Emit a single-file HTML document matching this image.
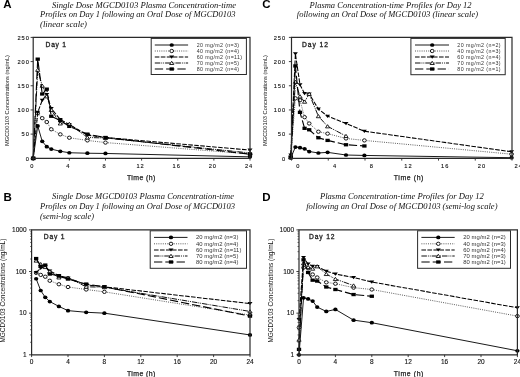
<!DOCTYPE html>
<html><head><meta charset="utf-8"><title>MGCD0103 plasma concentration-time profiles</title>
<style>
html,body{margin:0;padding:0;background:#fff;}
body{width:520px;height:377px;overflow:hidden;font-family:"Liberation Sans",sans-serif;}
svg{display:block;filter:grayscale(1);}
text{font-family:"Liberation Sans",sans-serif;fill:#111;}
.pl{font-weight:bold;font-size:11.5px;fill:#000;}
.ti{font-family:"Liberation Serif",serif;font-style:italic;font-size:8.6px;fill:#111;}
.tk{font-size:6.2px;fill:#111;stroke:#111;stroke-width:0.12px;}
.day{font-size:6.7px;fill:#222;stroke:#222;stroke-width:0.3px;}
.tl{font-size:6.9px;fill:#222;stroke:#222;stroke-width:0.25px;}
.yl{fill:#111;}
.lg{font-size:5.3px;fill:#333;}
</style></head><body>
<svg width="520" height="377" viewBox="0 0 520 377">
<rect width="520" height="377" fill="#fff"/>

<text class="pl" x="3.2" y="8.2">A</text>
<text class="pl" x="262.2" y="8.4">C</text>
<text class="pl" x="3.6" y="200.5">B</text>
<text class="pl" x="262.2" y="200.5">D</text>
<text class="ti" x="52" y="7.6" textLength="184" lengthAdjust="spacingAndGlyphs">Single Dose MGCD0103 Plasma Concentration-time</text>
<text class="ti" x="40" y="17.4" textLength="195.5" lengthAdjust="spacingAndGlyphs">Profiles on Day 1 following an Oral Dose of MGCD0103</text>
<text class="ti" x="40" y="27.4" textLength="47" lengthAdjust="spacingAndGlyphs">(linear scale)</text>
<text class="ti" x="309.6" y="7.6" textLength="162" lengthAdjust="spacingAndGlyphs">Plasma Concentration-time Profiles for Day 12</text>
<text class="ti" x="296.8" y="17.4" textLength="181.2" lengthAdjust="spacingAndGlyphs">following an Oral Dose of MGCD0103 (linear scale)</text>
<text class="ti" x="52" y="199.3" textLength="182" lengthAdjust="spacingAndGlyphs">Single Dose MGCD0103 Plasma Concentration-time</text>
<text class="ti" x="40" y="209" textLength="195" lengthAdjust="spacingAndGlyphs">Profiles on Day 1 following an Oral Dose of MGCD0103</text>
<text class="ti" x="40" y="218.7" textLength="54" lengthAdjust="spacingAndGlyphs">(semi-log scale)</text>
<text class="ti" x="319.9" y="199.3" textLength="164" lengthAdjust="spacingAndGlyphs">Plasma Concentration-time Profiles for Day 12</text>
<text class="ti" x="306.2" y="209" textLength="191.3" lengthAdjust="spacingAndGlyphs">following an Oral Dose of MGCD0103 (semi-log scale)</text>

<g><polyline fill="none" stroke="#000" stroke-width="0.9" points="33.20,158.30 37.72,125.90 42.23,141.37 46.75,146.69 51.27,149.11 60.30,151.29 69.33,152.74 87.40,153.22 105.47,153.46 250.00,156.85"/>
<ellipse cx="33.20" cy="158.30" rx="2.15" ry="1.85" fill="#000"/>
<ellipse cx="37.72" cy="125.90" rx="2.15" ry="1.85" fill="#000"/>
<ellipse cx="42.23" cy="141.37" rx="2.15" ry="1.85" fill="#000"/>
<ellipse cx="46.75" cy="146.69" rx="2.15" ry="1.85" fill="#000"/>
<ellipse cx="51.27" cy="149.11" rx="2.15" ry="1.85" fill="#000"/>
<ellipse cx="60.30" cy="151.29" rx="2.15" ry="1.85" fill="#000"/>
<ellipse cx="69.33" cy="152.74" rx="2.15" ry="1.85" fill="#000"/>
<ellipse cx="87.40" cy="153.22" rx="2.15" ry="1.85" fill="#000"/>
<ellipse cx="105.47" cy="153.46" rx="2.15" ry="1.85" fill="#000"/>
<ellipse cx="250.00" cy="156.85" rx="2.15" ry="1.85" fill="#000"/>
<polyline fill="none" stroke="#333" stroke-width="0.8" stroke-dasharray="1 1.2" points="33.20,158.30 37.72,113.33 42.23,118.16 46.75,122.03 51.27,129.28 60.30,134.36 69.33,137.75 87.40,140.41 105.47,142.58 250.00,153.95"/>
<ellipse cx="33.20" cy="158.30" rx="1.85" ry="1.65" fill="#fff" stroke="#000" stroke-width="0.9"/>
<ellipse cx="37.72" cy="113.33" rx="1.85" ry="1.65" fill="#fff" stroke="#000" stroke-width="0.9"/>
<ellipse cx="42.23" cy="118.16" rx="1.85" ry="1.65" fill="#fff" stroke="#000" stroke-width="0.9"/>
<ellipse cx="46.75" cy="122.03" rx="1.85" ry="1.65" fill="#fff" stroke="#000" stroke-width="0.9"/>
<ellipse cx="51.27" cy="129.28" rx="1.85" ry="1.65" fill="#fff" stroke="#000" stroke-width="0.9"/>
<ellipse cx="60.30" cy="134.36" rx="1.85" ry="1.65" fill="#fff" stroke="#000" stroke-width="0.9"/>
<ellipse cx="69.33" cy="137.75" rx="1.85" ry="1.65" fill="#fff" stroke="#000" stroke-width="0.9"/>
<ellipse cx="87.40" cy="140.41" rx="1.85" ry="1.65" fill="#fff" stroke="#000" stroke-width="0.9"/>
<ellipse cx="105.47" cy="142.58" rx="1.85" ry="1.65" fill="#fff" stroke="#000" stroke-width="0.9"/>
<ellipse cx="250.00" cy="153.95" rx="1.85" ry="1.65" fill="#fff" stroke="#000" stroke-width="0.9"/>
<polyline fill="none" stroke="#000" stroke-width="1.05" stroke-dasharray="4.6 1.4" points="33.20,158.30 37.72,112.36 42.23,100.27 46.75,94.46 51.27,108.49 60.30,119.61 69.33,124.45 87.40,135.09 105.47,137.51 250.00,150.08"/>
<path d="M30.70 156.80L35.70 156.80L33.20 160.03Z" fill="#000"/>
<path d="M35.22 110.86L40.22 110.86L37.72 114.08Z" fill="#000"/>
<path d="M39.73 98.77L44.73 98.77L42.23 101.99Z" fill="#000"/>
<path d="M44.25 92.96L49.25 92.96L46.75 96.19Z" fill="#000"/>
<path d="M48.77 106.99L53.77 106.99L51.27 110.21Z" fill="#000"/>
<path d="M57.80 118.11L62.80 118.11L60.30 121.34Z" fill="#000"/>
<path d="M66.83 122.95L71.83 122.95L69.33 126.17Z" fill="#000"/>
<path d="M84.90 133.59L89.90 133.59L87.40 136.81Z" fill="#000"/>
<path d="M102.97 136.01L107.97 136.01L105.47 139.23Z" fill="#000"/>
<path d="M247.50 148.58L252.50 148.58L250.00 151.80Z" fill="#000"/>
<polyline fill="none" stroke="#000" stroke-width="0.95" stroke-dasharray="5.5 1 0.9 1 0.9 1" points="33.20,158.30 37.72,69.80 42.23,85.76 46.75,96.40 51.27,109.94 60.30,123.48 69.33,123.96 87.40,137.51 105.47,137.99 250.00,152.98"/>
<path d="M31.10 159.80L35.30 159.80L33.20 156.58Z" fill="#fff" stroke="#000" stroke-width="0.85"/>
<path d="M35.62 71.30L39.82 71.30L37.72 68.08Z" fill="#fff" stroke="#000" stroke-width="0.85"/>
<path d="M40.13 87.26L44.33 87.26L42.23 84.04Z" fill="#fff" stroke="#000" stroke-width="0.85"/>
<path d="M44.65 97.90L48.85 97.90L46.75 94.67Z" fill="#fff" stroke="#000" stroke-width="0.85"/>
<path d="M49.17 111.44L53.37 111.44L51.27 108.22Z" fill="#fff" stroke="#000" stroke-width="0.85"/>
<path d="M58.20 124.98L62.40 124.98L60.30 121.76Z" fill="#fff" stroke="#000" stroke-width="0.85"/>
<path d="M67.23 125.46L71.43 125.46L69.33 122.24Z" fill="#fff" stroke="#000" stroke-width="0.85"/>
<path d="M85.30 139.01L89.50 139.01L87.40 135.78Z" fill="#fff" stroke="#000" stroke-width="0.85"/>
<path d="M103.37 139.49L107.57 139.49L105.47 136.26Z" fill="#fff" stroke="#000" stroke-width="0.85"/>
<path d="M247.90 154.48L252.10 154.48L250.00 151.26Z" fill="#fff" stroke="#000" stroke-width="0.85"/>
<polyline fill="none" stroke="#000" stroke-width="1.15" stroke-dasharray="8.3 3" points="33.20,158.30 37.72,59.16 42.23,93.98 46.75,89.15 51.27,116.23 60.30,120.58 69.33,126.38 87.40,134.12 105.47,137.51 250.00,154.19"/>
<rect x="31.05" y="156.65" width="4.30" height="3.30" fill="#000"/>
<rect x="35.57" y="57.51" width="4.30" height="3.30" fill="#000"/>
<rect x="40.08" y="92.33" width="4.30" height="3.30" fill="#000"/>
<rect x="44.60" y="87.50" width="4.30" height="3.30" fill="#000"/>
<rect x="49.12" y="114.58" width="4.30" height="3.30" fill="#000"/>
<rect x="58.15" y="118.93" width="4.30" height="3.30" fill="#000"/>
<rect x="67.18" y="124.73" width="4.30" height="3.30" fill="#000"/>
<rect x="85.25" y="132.47" width="4.30" height="3.30" fill="#000"/>
<rect x="103.32" y="135.86" width="4.30" height="3.30" fill="#000"/>
<rect x="247.85" y="152.54" width="4.30" height="3.30" fill="#000"/>
<path d="M33.2 37.4H250V158.3H33.2Z" fill="none" stroke="#2a2a2a" stroke-width="1.2"/>
<path d="M33.20 158.3v2.3" stroke="#2a2a2a" stroke-width="0.9"/>
<text x="32.20" y="168.10" text-anchor="middle" class="tk" letter-spacing="0.95" style="font-size:5.7px">0</text>
<path d="M69.33 158.3v2.3" stroke="#2a2a2a" stroke-width="0.9"/>
<text x="68.33" y="168.10" text-anchor="middle" class="tk" letter-spacing="0.95" style="font-size:5.7px">4</text>
<path d="M105.47 158.3v2.3" stroke="#2a2a2a" stroke-width="0.9"/>
<text x="104.47" y="168.10" text-anchor="middle" class="tk" letter-spacing="0.95" style="font-size:5.7px">8</text>
<path d="M141.60 158.3v2.3" stroke="#2a2a2a" stroke-width="0.9"/>
<text x="140.60" y="168.10" text-anchor="middle" class="tk" letter-spacing="0.95" style="font-size:5.7px">12</text>
<path d="M177.73 158.3v2.3" stroke="#2a2a2a" stroke-width="0.9"/>
<text x="176.73" y="168.10" text-anchor="middle" class="tk" letter-spacing="0.95" style="font-size:5.7px">16</text>
<path d="M213.87 158.3v2.3" stroke="#2a2a2a" stroke-width="0.9"/>
<text x="212.87" y="168.10" text-anchor="middle" class="tk" letter-spacing="0.95" style="font-size:5.7px">20</text>
<path d="M250.00 158.3v2.3" stroke="#2a2a2a" stroke-width="0.9"/>
<text x="249.00" y="168.10" text-anchor="middle" class="tk" letter-spacing="0.95" style="font-size:5.7px">24</text>
<path d="M33.2 158.30h-2.6" stroke="#2a2a2a" stroke-width="0.9"/>
<text x="29.8" y="160.60" text-anchor="end" class="tk" letter-spacing="0.95" style="font-size:5.7px">0</text>
<path d="M33.2 134.12h-2.6" stroke="#2a2a2a" stroke-width="0.9"/>
<text x="29.8" y="136.42" text-anchor="end" class="tk" letter-spacing="0.95" style="font-size:5.7px">50</text>
<path d="M33.2 109.94h-2.6" stroke="#2a2a2a" stroke-width="0.9"/>
<text x="29.8" y="112.24" text-anchor="end" class="tk" letter-spacing="0.95" style="font-size:5.7px">100</text>
<path d="M33.2 85.76h-2.6" stroke="#2a2a2a" stroke-width="0.9"/>
<text x="29.8" y="88.06" text-anchor="end" class="tk" letter-spacing="0.95" style="font-size:5.7px">150</text>
<path d="M33.2 61.58h-2.6" stroke="#2a2a2a" stroke-width="0.9"/>
<text x="29.8" y="63.88" text-anchor="end" class="tk" letter-spacing="0.95" style="font-size:5.7px">200</text>
<path d="M33.2 37.40h-2.6" stroke="#2a2a2a" stroke-width="0.9"/>
<text x="29.8" y="39.70" text-anchor="end" class="tk" letter-spacing="0.95" style="font-size:5.7px">250</text>
<text x="45.6" y="46.80" class="day" textLength="20.4" lengthAdjust="spacing">Day 1</text>
<text x="126.9" y="179.90" class="tl" textLength="28.5" lengthAdjust="spacing">Time (h)</text>
<text transform="translate(9.43 146.00) rotate(-90)" class="yl" style="font-size:6.2px" textLength="91" lengthAdjust="spacingAndGlyphs">MGCD0103 Concentrations (ng/mL)</text>
<rect x="151.2" y="38.4" width="95.20000000000002" height="36.1" fill="#fff" stroke="#2a2a2a" stroke-width="1"/>
<path d="M154.8 45.0H188.1" stroke="#000" stroke-width="0.9"/>
<ellipse cx="171.70" cy="45.00" rx="2.15" ry="1.85" fill="#000"/>
<text x="196.8" y="47.00" class="lg" style="font-size:5.3px" textLength="42.3" lengthAdjust="spacing">20 mg/m2 (n=3)</text>
<path d="M154.8 51.0H188.1" stroke="#333" stroke-width="0.8" stroke-dasharray="1 1.2"/>
<ellipse cx="171.70" cy="51.00" rx="1.85" ry="1.65" fill="#fff" stroke="#000" stroke-width="0.9"/>
<text x="196.8" y="53.00" class="lg" style="font-size:5.3px" textLength="42.3" lengthAdjust="spacing">40 mg/m2 (n=4)</text>
<path d="M154.8 57.0H188.1" stroke="#000" stroke-width="1.05" stroke-dasharray="4.6 1.4"/>
<path d="M169.20 55.50L174.20 55.50L171.70 58.73Z" fill="#000"/>
<text x="196.8" y="59.00" class="lg" style="font-size:5.3px" textLength="45.3" lengthAdjust="spacing">60 mg/m2 (n=11)</text>
<path d="M154.8 63.0H188.1" stroke="#000" stroke-width="0.95" stroke-dasharray="5.5 1 0.9 1 0.9 1"/>
<path d="M169.60 64.50L173.80 64.50L171.70 61.27Z" fill="#fff" stroke="#000" stroke-width="0.85"/>
<text x="196.8" y="65.00" class="lg" style="font-size:5.3px" textLength="42.3" lengthAdjust="spacing">70 mg/m2 (n=5)</text>
<path d="M154.8 69.0H188.1" stroke="#000" stroke-width="1.15" stroke-dasharray="8.3 3"/>
<rect x="169.55" y="67.35" width="4.30" height="3.30" fill="#000"/>
<text x="196.8" y="71.00" class="lg" style="font-size:5.3px" textLength="42.3" lengthAdjust="spacing">80 mg/m2 (n=4)</text></g>
<g><polyline fill="none" stroke="#000" stroke-width="0.9" points="290.80,157.82 295.40,147.03 300.00,147.66 304.60,148.87 309.20,151.53 318.40,152.98 327.60,152.35 346.00,155.01 364.40,155.45 511.60,157.70"/>
<ellipse cx="290.80" cy="157.82" rx="2.15" ry="1.85" fill="#000"/>
<ellipse cx="295.40" cy="147.03" rx="2.15" ry="1.85" fill="#000"/>
<ellipse cx="300.00" cy="147.66" rx="2.15" ry="1.85" fill="#000"/>
<ellipse cx="304.60" cy="148.87" rx="2.15" ry="1.85" fill="#000"/>
<ellipse cx="309.20" cy="151.53" rx="2.15" ry="1.85" fill="#000"/>
<ellipse cx="318.40" cy="152.98" rx="2.15" ry="1.85" fill="#000"/>
<ellipse cx="327.60" cy="152.35" rx="2.15" ry="1.85" fill="#000"/>
<ellipse cx="346.00" cy="155.01" rx="2.15" ry="1.85" fill="#000"/>
<ellipse cx="364.40" cy="155.45" rx="2.15" ry="1.85" fill="#000"/>
<ellipse cx="511.60" cy="157.70" rx="2.15" ry="1.85" fill="#000"/>
<polyline fill="none" stroke="#333" stroke-width="0.8" stroke-dasharray="1 1.2" points="290.80,156.12 295.40,98.33 300.00,100.27 304.60,117.19 309.20,123.48 318.40,131.70 327.60,133.64 346.00,138.47 364.40,140.41 511.60,154.19"/>
<ellipse cx="290.80" cy="156.12" rx="1.85" ry="1.65" fill="#fff" stroke="#000" stroke-width="0.9"/>
<ellipse cx="295.40" cy="98.33" rx="1.85" ry="1.65" fill="#fff" stroke="#000" stroke-width="0.9"/>
<ellipse cx="300.00" cy="100.27" rx="1.85" ry="1.65" fill="#fff" stroke="#000" stroke-width="0.9"/>
<ellipse cx="304.60" cy="117.19" rx="1.85" ry="1.65" fill="#fff" stroke="#000" stroke-width="0.9"/>
<ellipse cx="309.20" cy="123.48" rx="1.85" ry="1.65" fill="#fff" stroke="#000" stroke-width="0.9"/>
<ellipse cx="318.40" cy="131.70" rx="1.85" ry="1.65" fill="#fff" stroke="#000" stroke-width="0.9"/>
<ellipse cx="327.60" cy="133.64" rx="1.85" ry="1.65" fill="#fff" stroke="#000" stroke-width="0.9"/>
<ellipse cx="346.00" cy="138.47" rx="1.85" ry="1.65" fill="#fff" stroke="#000" stroke-width="0.9"/>
<ellipse cx="364.40" cy="140.41" rx="1.85" ry="1.65" fill="#fff" stroke="#000" stroke-width="0.9"/>
<ellipse cx="511.60" cy="154.19" rx="1.85" ry="1.65" fill="#fff" stroke="#000" stroke-width="0.9"/>
<polyline fill="none" stroke="#000" stroke-width="1.05" stroke-dasharray="4.6 1.4" points="290.80,154.91 295.40,53.84 300.00,84.79 304.60,93.50 309.20,93.98 318.40,108.97 327.60,116.23 346.00,123.48 364.40,131.22 511.60,151.77"/>
<path d="M288.30 153.41L293.30 153.41L290.80 156.64Z" fill="#000"/>
<path d="M292.90 52.34L297.90 52.34L295.40 55.57Z" fill="#000"/>
<path d="M297.50 83.29L302.50 83.29L300.00 86.52Z" fill="#000"/>
<path d="M302.10 92.00L307.10 92.00L304.60 95.22Z" fill="#000"/>
<path d="M306.70 92.48L311.70 92.48L309.20 95.71Z" fill="#000"/>
<path d="M315.90 107.47L320.90 107.47L318.40 110.70Z" fill="#000"/>
<path d="M325.10 114.73L330.10 114.73L327.60 117.95Z" fill="#000"/>
<path d="M343.50 121.98L348.50 121.98L346.00 125.21Z" fill="#000"/>
<path d="M361.90 129.72L366.90 129.72L364.40 132.94Z" fill="#000"/>
<path d="M509.10 150.27L514.10 150.27L511.60 153.50Z" fill="#000"/>
<polyline fill="none" stroke="#000" stroke-width="0.95" stroke-dasharray="5.5 1 0.9 1 0.9 1" points="290.80,157.19 295.40,81.89 300.00,96.40 304.60,101.72 309.20,93.98 318.40,116.23 327.60,126.38 346.00,136.05"/>
<path d="M288.70 158.69L292.90 158.69L290.80 155.46Z" fill="#fff" stroke="#000" stroke-width="0.85"/>
<path d="M293.30 83.39L297.50 83.39L295.40 80.17Z" fill="#fff" stroke="#000" stroke-width="0.85"/>
<path d="M297.90 97.90L302.10 97.90L300.00 94.67Z" fill="#fff" stroke="#000" stroke-width="0.85"/>
<path d="M302.50 103.22L306.70 103.22L304.60 99.99Z" fill="#fff" stroke="#000" stroke-width="0.85"/>
<path d="M307.10 95.48L311.30 95.48L309.20 92.26Z" fill="#fff" stroke="#000" stroke-width="0.85"/>
<path d="M316.30 117.73L320.50 117.73L318.40 114.50Z" fill="#fff" stroke="#000" stroke-width="0.85"/>
<path d="M325.50 127.88L329.70 127.88L327.60 124.66Z" fill="#fff" stroke="#000" stroke-width="0.85"/>
<path d="M343.90 137.55L348.10 137.55L346.00 134.33Z" fill="#fff" stroke="#000" stroke-width="0.85"/>
<polyline fill="none" stroke="#000" stroke-width="1.15" stroke-dasharray="8.3 3" points="290.80,157.65 295.40,65.93 300.00,112.36 304.60,128.32 309.20,129.77 318.40,137.75 327.60,140.41 346.00,144.76 364.40,145.97"/>
<rect x="288.65" y="156.00" width="4.30" height="3.30" fill="#000"/>
<rect x="293.25" y="64.28" width="4.30" height="3.30" fill="#000"/>
<rect x="297.85" y="110.71" width="4.30" height="3.30" fill="#000"/>
<rect x="302.45" y="126.67" width="4.30" height="3.30" fill="#000"/>
<rect x="307.05" y="128.12" width="4.30" height="3.30" fill="#000"/>
<rect x="316.25" y="136.10" width="4.30" height="3.30" fill="#000"/>
<rect x="325.45" y="138.76" width="4.30" height="3.30" fill="#000"/>
<rect x="343.85" y="143.11" width="4.30" height="3.30" fill="#000"/>
<rect x="362.25" y="144.32" width="4.30" height="3.30" fill="#000"/>
<path d="M291.5 37.4H512V158.3H291.5Z" fill="none" stroke="#2a2a2a" stroke-width="1.2"/>
<path d="M291.50 158.3v2.3" stroke="#2a2a2a" stroke-width="0.9"/>
<text x="298.20" y="168.10" text-anchor="middle" class="tk" letter-spacing="0.95" style="font-size:5.7px">0</text>
<path d="M328.25 158.3v2.3" stroke="#2a2a2a" stroke-width="0.9"/>
<text x="334.95" y="168.10" text-anchor="middle" class="tk" letter-spacing="0.95" style="font-size:5.7px">4</text>
<path d="M365.00 158.3v2.3" stroke="#2a2a2a" stroke-width="0.9"/>
<text x="371.70" y="168.10" text-anchor="middle" class="tk" letter-spacing="0.95" style="font-size:5.7px">8</text>
<path d="M401.75 158.3v2.3" stroke="#2a2a2a" stroke-width="0.9"/>
<text x="408.45" y="168.10" text-anchor="middle" class="tk" letter-spacing="0.95" style="font-size:5.7px">12</text>
<path d="M438.50 158.3v2.3" stroke="#2a2a2a" stroke-width="0.9"/>
<text x="445.20" y="168.10" text-anchor="middle" class="tk" letter-spacing="0.95" style="font-size:5.7px">16</text>
<path d="M475.25 158.3v2.3" stroke="#2a2a2a" stroke-width="0.9"/>
<text x="481.95" y="168.10" text-anchor="middle" class="tk" letter-spacing="0.95" style="font-size:5.7px">20</text>
<path d="M512.00 158.3v2.3" stroke="#2a2a2a" stroke-width="0.9"/>
<text x="518.70" y="168.10" text-anchor="middle" class="tk" letter-spacing="0.95" style="font-size:5.7px">24</text>
<path d="M291.5 158.30h-2.6" stroke="#2a2a2a" stroke-width="0.9"/>
<text x="286.0" y="160.60" text-anchor="end" class="tk" letter-spacing="0.95" style="font-size:5.7px">0</text>
<path d="M291.5 134.12h-2.6" stroke="#2a2a2a" stroke-width="0.9"/>
<text x="286.0" y="136.42" text-anchor="end" class="tk" letter-spacing="0.95" style="font-size:5.7px">50</text>
<path d="M291.5 109.94h-2.6" stroke="#2a2a2a" stroke-width="0.9"/>
<text x="286.0" y="112.24" text-anchor="end" class="tk" letter-spacing="0.95" style="font-size:5.7px">100</text>
<path d="M291.5 85.76h-2.6" stroke="#2a2a2a" stroke-width="0.9"/>
<text x="286.0" y="88.06" text-anchor="end" class="tk" letter-spacing="0.95" style="font-size:5.7px">150</text>
<path d="M291.5 61.58h-2.6" stroke="#2a2a2a" stroke-width="0.9"/>
<text x="286.0" y="63.88" text-anchor="end" class="tk" letter-spacing="0.95" style="font-size:5.7px">200</text>
<path d="M291.5 37.40h-2.6" stroke="#2a2a2a" stroke-width="0.9"/>
<text x="286.0" y="39.70" text-anchor="end" class="tk" letter-spacing="0.95" style="font-size:5.7px">250</text>
<text x="302" y="46.80" class="day" textLength="26" lengthAdjust="spacing">Day 12</text>
<text x="393.8" y="179.90" class="tl" textLength="29.6" lengthAdjust="spacing">Time (h)</text>
<text transform="translate(266.93 146.00) rotate(-90)" class="yl" style="font-size:6.2px" textLength="91" lengthAdjust="spacingAndGlyphs">MGCD0103 Concentrations (ng/mL)</text>
<rect x="410.9" y="38.4" width="94.30000000000001" height="36.300000000000004" fill="#fff" stroke="#2a2a2a" stroke-width="1"/>
<path d="M415 45.0H449" stroke="#000" stroke-width="0.9"/>
<ellipse cx="432.20" cy="45.00" rx="2.15" ry="1.85" fill="#000"/>
<text x="457.3" y="47.00" class="lg" style="font-size:5.3px" textLength="43.3" lengthAdjust="spacing">20 mg/m2 (n=2)</text>
<path d="M415 51.0H449" stroke="#333" stroke-width="0.8" stroke-dasharray="1 1.2"/>
<ellipse cx="432.20" cy="51.00" rx="1.85" ry="1.65" fill="#fff" stroke="#000" stroke-width="0.9"/>
<text x="457.3" y="53.00" class="lg" style="font-size:5.3px" textLength="43.3" lengthAdjust="spacing">40 mg/m2 (n=3)</text>
<path d="M415 57.0H449" stroke="#000" stroke-width="1.05" stroke-dasharray="4.6 1.4"/>
<path d="M429.70 55.50L434.70 55.50L432.20 58.73Z" fill="#000"/>
<text x="457.3" y="59.00" class="lg" style="font-size:5.3px" textLength="43.3" lengthAdjust="spacing">60 mg/m2 (n=4)</text>
<path d="M415 63.0H449" stroke="#000" stroke-width="0.95" stroke-dasharray="5.5 1 0.9 1 0.9 1"/>
<path d="M430.10 64.50L434.30 64.50L432.20 61.27Z" fill="#fff" stroke="#000" stroke-width="0.85"/>
<text x="457.3" y="65.00" class="lg" style="font-size:5.3px" textLength="43.3" lengthAdjust="spacing">70 mg/m2 (n=3)</text>
<path d="M415 69.0H449" stroke="#000" stroke-width="1.15" stroke-dasharray="8.3 3"/>
<rect x="430.05" y="67.35" width="4.30" height="3.30" fill="#000"/>
<text x="457.3" y="71.00" class="lg" style="font-size:5.3px" textLength="43.3" lengthAdjust="spacing">80 mg/m2 (n=1)</text></g>
<g><polyline fill="none" stroke="#000" stroke-width="0.9" points="36.15,278.77 40.70,290.52 45.25,297.34 49.80,301.56 58.90,306.45 68.00,310.64 86.20,312.28 104.40,313.17 250.00,334.94"/>
<ellipse cx="36.15" cy="278.77" rx="2.15" ry="1.85" fill="#000"/>
<ellipse cx="40.70" cy="290.52" rx="2.15" ry="1.85" fill="#000"/>
<ellipse cx="45.25" cy="297.34" rx="2.15" ry="1.85" fill="#000"/>
<ellipse cx="49.80" cy="301.56" rx="2.15" ry="1.85" fill="#000"/>
<ellipse cx="58.90" cy="306.45" rx="2.15" ry="1.85" fill="#000"/>
<ellipse cx="68.00" cy="310.64" rx="2.15" ry="1.85" fill="#000"/>
<ellipse cx="86.20" cy="312.28" rx="2.15" ry="1.85" fill="#000"/>
<ellipse cx="104.40" cy="313.17" rx="2.15" ry="1.85" fill="#000"/>
<ellipse cx="250.00" cy="334.94" rx="2.15" ry="1.85" fill="#000"/>
<polyline fill="none" stroke="#333" stroke-width="0.8" stroke-dasharray="1 1.2" points="36.15,272.85 40.70,274.90 45.25,276.73 49.80,280.77 58.90,284.25 68.00,287.00 86.20,289.51 104.40,291.86 250.00,315.07"/>
<ellipse cx="36.15" cy="272.85" rx="1.85" ry="1.65" fill="#fff" stroke="#000" stroke-width="0.9"/>
<ellipse cx="40.70" cy="274.90" rx="1.85" ry="1.65" fill="#fff" stroke="#000" stroke-width="0.9"/>
<ellipse cx="45.25" cy="276.73" rx="1.85" ry="1.65" fill="#fff" stroke="#000" stroke-width="0.9"/>
<ellipse cx="49.80" cy="280.77" rx="1.85" ry="1.65" fill="#fff" stroke="#000" stroke-width="0.9"/>
<ellipse cx="58.90" cy="284.25" rx="1.85" ry="1.65" fill="#fff" stroke="#000" stroke-width="0.9"/>
<ellipse cx="68.00" cy="287.00" rx="1.85" ry="1.65" fill="#fff" stroke="#000" stroke-width="0.9"/>
<ellipse cx="86.20" cy="289.51" rx="1.85" ry="1.65" fill="#fff" stroke="#000" stroke-width="0.9"/>
<ellipse cx="104.40" cy="291.86" rx="1.85" ry="1.65" fill="#fff" stroke="#000" stroke-width="0.9"/>
<ellipse cx="250.00" cy="315.07" rx="1.85" ry="1.65" fill="#fff" stroke="#000" stroke-width="0.9"/>
<polyline fill="none" stroke="#000" stroke-width="1.05" stroke-dasharray="4.6 1.4" points="36.15,272.46 40.70,268.24 45.25,266.51 49.80,271.00 58.90,275.57 68.00,277.98 86.20,284.80 104.40,286.79 250.00,303.57"/>
<path d="M33.65 270.96L38.65 270.96L36.15 274.19Z" fill="#000"/>
<path d="M38.20 266.74L43.20 266.74L40.70 269.96Z" fill="#000"/>
<path d="M42.75 265.01L47.75 265.01L45.25 268.24Z" fill="#000"/>
<path d="M47.30 269.50L52.30 269.50L49.80 272.72Z" fill="#000"/>
<path d="M56.40 274.07L61.40 274.07L58.90 277.29Z" fill="#000"/>
<path d="M65.50 276.48L70.50 276.48L68.00 279.71Z" fill="#000"/>
<path d="M83.70 283.30L88.70 283.30L86.20 286.53Z" fill="#000"/>
<path d="M101.90 285.29L106.90 285.29L104.40 288.52Z" fill="#000"/>
<path d="M247.50 302.07L252.50 302.07L250.00 305.30Z" fill="#000"/>
<polyline fill="none" stroke="#000" stroke-width="0.95" stroke-dasharray="5.5 1 0.9 1 0.9 1" points="36.15,260.61 40.70,264.20 45.25,267.07 49.80,271.53 58.90,277.47 68.00,277.73 86.20,286.79 104.40,287.22 250.00,311.44"/>
<path d="M34.05 262.11L38.25 262.11L36.15 258.88Z" fill="#fff" stroke="#000" stroke-width="0.85"/>
<path d="M38.60 265.70L42.80 265.70L40.70 262.48Z" fill="#fff" stroke="#000" stroke-width="0.85"/>
<path d="M43.15 268.57L47.35 268.57L45.25 265.34Z" fill="#fff" stroke="#000" stroke-width="0.85"/>
<path d="M47.70 273.03L51.90 273.03L49.80 269.81Z" fill="#fff" stroke="#000" stroke-width="0.85"/>
<path d="M56.80 278.97L61.00 278.97L58.90 275.75Z" fill="#fff" stroke="#000" stroke-width="0.85"/>
<path d="M65.90 279.23L70.10 279.23L68.00 276.00Z" fill="#fff" stroke="#000" stroke-width="0.85"/>
<path d="M84.10 288.29L88.30 288.29L86.20 285.07Z" fill="#fff" stroke="#000" stroke-width="0.85"/>
<path d="M102.30 288.72L106.50 288.72L104.40 285.49Z" fill="#fff" stroke="#000" stroke-width="0.85"/>
<path d="M247.90 312.94L252.10 312.94L250.00 309.72Z" fill="#fff" stroke="#000" stroke-width="0.85"/>
<polyline fill="none" stroke="#000" stroke-width="1.15" stroke-dasharray="8.3 3" points="36.15,258.55 40.70,266.38 45.25,265.07 49.80,274.05 58.90,276.03 68.00,279.05 86.20,284.07 104.40,286.79 250.00,316.11"/>
<rect x="34.00" y="256.90" width="4.30" height="3.30" fill="#000"/>
<rect x="38.55" y="264.73" width="4.30" height="3.30" fill="#000"/>
<rect x="43.10" y="263.42" width="4.30" height="3.30" fill="#000"/>
<rect x="47.65" y="272.40" width="4.30" height="3.30" fill="#000"/>
<rect x="56.75" y="274.38" width="4.30" height="3.30" fill="#000"/>
<rect x="65.85" y="277.40" width="4.30" height="3.30" fill="#000"/>
<rect x="84.05" y="282.42" width="4.30" height="3.30" fill="#000"/>
<rect x="102.25" y="285.14" width="4.30" height="3.30" fill="#000"/>
<rect x="247.85" y="314.46" width="4.30" height="3.30" fill="#000"/>
<path d="M31.6 229.9H250V354.8H31.6Z" fill="none" stroke="#2a2a2a" stroke-width="1.2"/>
<path d="M31.60 354.8v2.3" stroke="#2a2a2a" stroke-width="0.9"/>
<text x="31.60" y="363.70" text-anchor="middle" class="tk" style="font-size:6.5px">0</text>
<path d="M68.00 354.8v2.3" stroke="#2a2a2a" stroke-width="0.9"/>
<text x="68.00" y="363.70" text-anchor="middle" class="tk" style="font-size:6.5px">4</text>
<path d="M104.40 354.8v2.3" stroke="#2a2a2a" stroke-width="0.9"/>
<text x="104.40" y="363.70" text-anchor="middle" class="tk" style="font-size:6.5px">8</text>
<path d="M140.80 354.8v2.3" stroke="#2a2a2a" stroke-width="0.9"/>
<text x="140.80" y="363.70" text-anchor="middle" class="tk" style="font-size:6.5px">12</text>
<path d="M177.20 354.8v2.3" stroke="#2a2a2a" stroke-width="0.9"/>
<text x="177.20" y="363.70" text-anchor="middle" class="tk" style="font-size:6.5px">16</text>
<path d="M213.60 354.8v2.3" stroke="#2a2a2a" stroke-width="0.9"/>
<text x="213.60" y="363.70" text-anchor="middle" class="tk" style="font-size:6.5px">20</text>
<path d="M250.00 354.8v2.3" stroke="#2a2a2a" stroke-width="0.9"/>
<text x="250.00" y="363.70" text-anchor="middle" class="tk" style="font-size:6.5px">24</text>
<path d="M31.6 354.80h-2.6" stroke="#2a2a2a" stroke-width="0.9"/>
<text x="26.5" y="357.10" text-anchor="end" class="tk" style="font-size:6.5px">1</text>
<path d="M31.6 342.27h-1.5" stroke="#2a2a2a" stroke-width="0.7"/>
<path d="M31.6 334.94h-1.5" stroke="#2a2a2a" stroke-width="0.7"/>
<path d="M31.6 329.73h-1.5" stroke="#2a2a2a" stroke-width="0.7"/>
<path d="M31.6 325.70h-1.5" stroke="#2a2a2a" stroke-width="0.7"/>
<path d="M31.6 322.40h-1.5" stroke="#2a2a2a" stroke-width="0.7"/>
<path d="M31.6 319.62h-1.5" stroke="#2a2a2a" stroke-width="0.7"/>
<path d="M31.6 317.20h-1.5" stroke="#2a2a2a" stroke-width="0.7"/>
<path d="M31.6 315.07h-1.5" stroke="#2a2a2a" stroke-width="0.7"/>
<path d="M31.6 313.17h-2.6" stroke="#2a2a2a" stroke-width="0.9"/>
<text x="26.5" y="315.47" text-anchor="end" class="tk" style="font-size:6.5px">10</text>
<path d="M31.6 300.63h-1.5" stroke="#2a2a2a" stroke-width="0.7"/>
<path d="M31.6 293.30h-1.5" stroke="#2a2a2a" stroke-width="0.7"/>
<path d="M31.6 288.10h-1.5" stroke="#2a2a2a" stroke-width="0.7"/>
<path d="M31.6 284.07h-1.5" stroke="#2a2a2a" stroke-width="0.7"/>
<path d="M31.6 280.77h-1.5" stroke="#2a2a2a" stroke-width="0.7"/>
<path d="M31.6 277.98h-1.5" stroke="#2a2a2a" stroke-width="0.7"/>
<path d="M31.6 275.57h-1.5" stroke="#2a2a2a" stroke-width="0.7"/>
<path d="M31.6 273.44h-1.5" stroke="#2a2a2a" stroke-width="0.7"/>
<path d="M31.6 271.53h-2.6" stroke="#2a2a2a" stroke-width="0.9"/>
<text x="26.5" y="273.83" text-anchor="end" class="tk" style="font-size:6.5px">100</text>
<path d="M31.6 259.00h-1.5" stroke="#2a2a2a" stroke-width="0.7"/>
<path d="M31.6 251.67h-1.5" stroke="#2a2a2a" stroke-width="0.7"/>
<path d="M31.6 246.47h-1.5" stroke="#2a2a2a" stroke-width="0.7"/>
<path d="M31.6 242.43h-1.5" stroke="#2a2a2a" stroke-width="0.7"/>
<path d="M31.6 239.14h-1.5" stroke="#2a2a2a" stroke-width="0.7"/>
<path d="M31.6 236.35h-1.5" stroke="#2a2a2a" stroke-width="0.7"/>
<path d="M31.6 233.93h-1.5" stroke="#2a2a2a" stroke-width="0.7"/>
<path d="M31.6 231.81h-1.5" stroke="#2a2a2a" stroke-width="0.7"/>
<path d="M31.6 229.90h-2.6" stroke="#2a2a2a" stroke-width="0.9"/>
<text x="26.5" y="232.20" text-anchor="end" class="tk" style="font-size:6.5px">1000</text>
<text x="43.8" y="239.30" class="day" textLength="20.8" lengthAdjust="spacing">Day 1</text>
<text x="126.9" y="376.40" class="tl" textLength="28.5" lengthAdjust="spacing">Time (h)</text>
<text transform="translate(5.48 342.60) rotate(-90)" class="yl" style="font-size:6.9px" textLength="104" lengthAdjust="spacingAndGlyphs">MGCD0103 Concentrations (ng/mL)</text>
<rect x="150.2" y="230.8" width="96.30000000000001" height="37.5" fill="#fff" stroke="#2a2a2a" stroke-width="1"/>
<path d="M154 237.4H187.5" stroke="#000" stroke-width="0.9"/>
<ellipse cx="171.00" cy="237.40" rx="2.15" ry="1.85" fill="#000"/>
<text x="196" y="239.40" class="lg" style="font-size:5.9px" textLength="42.4" lengthAdjust="spacing">20 mg/m2 (n=3)</text>
<path d="M154 243.8H187.5" stroke="#333" stroke-width="0.8" stroke-dasharray="1 1.2"/>
<ellipse cx="171.00" cy="243.80" rx="1.85" ry="1.65" fill="#fff" stroke="#000" stroke-width="0.9"/>
<text x="196" y="245.80" class="lg" style="font-size:5.9px" textLength="42.4" lengthAdjust="spacing">40 mg/m2 (n=4)</text>
<path d="M154 249.9H187.5" stroke="#000" stroke-width="1.05" stroke-dasharray="4.6 1.4"/>
<path d="M168.50 248.40L173.50 248.40L171.00 251.62Z" fill="#000"/>
<text x="196" y="251.90" class="lg" style="font-size:5.9px" textLength="45.4" lengthAdjust="spacing">60 mg/m2 (n=11)</text>
<path d="M154 256.0H187.5" stroke="#000" stroke-width="0.95" stroke-dasharray="5.5 1 0.9 1 0.9 1"/>
<path d="M168.90 257.50L173.10 257.50L171.00 254.28Z" fill="#fff" stroke="#000" stroke-width="0.85"/>
<text x="196" y="258.00" class="lg" style="font-size:5.9px" textLength="42.4" lengthAdjust="spacing">70 mg/m2 (n=5)</text>
<path d="M154 262.0H187.5" stroke="#000" stroke-width="1.15" stroke-dasharray="8.3 3"/>
<rect x="168.85" y="260.35" width="4.30" height="3.30" fill="#000"/>
<text x="196" y="264.00" class="lg" style="font-size:5.9px" textLength="42.4" lengthAdjust="spacing">80 mg/m2 (n=4)</text></g>
<g><polyline fill="none" stroke="#000" stroke-width="0.9" points="299.00,354.80 303.55,297.87 308.10,298.91 312.65,301.09 317.20,307.08 326.30,311.44 335.40,309.42 353.60,320.14 371.80,322.71 517.40,350.77"/>
<ellipse cx="299.00" cy="354.80" rx="2.15" ry="1.85" fill="#000"/>
<ellipse cx="303.55" cy="297.87" rx="2.15" ry="1.85" fill="#000"/>
<ellipse cx="308.10" cy="298.91" rx="2.15" ry="1.85" fill="#000"/>
<ellipse cx="312.65" cy="301.09" rx="2.15" ry="1.85" fill="#000"/>
<ellipse cx="317.20" cy="307.08" rx="2.15" ry="1.85" fill="#000"/>
<ellipse cx="326.30" cy="311.44" rx="2.15" ry="1.85" fill="#000"/>
<ellipse cx="335.40" cy="309.42" rx="2.15" ry="1.85" fill="#000"/>
<ellipse cx="353.60" cy="320.14" rx="2.15" ry="1.85" fill="#000"/>
<ellipse cx="371.80" cy="322.71" rx="2.15" ry="1.85" fill="#000"/>
<ellipse cx="517.40" cy="350.77" rx="2.15" ry="1.85" fill="#000"/>
<polyline fill="none" stroke="#333" stroke-width="0.8" stroke-dasharray="1 1.2" points="299.00,327.60 303.55,267.64 308.10,268.24 312.65,274.47 317.20,277.47 326.30,282.34 335.40,283.71 353.60,287.65 371.80,289.51 517.40,316.11"/>
<ellipse cx="299.00" cy="327.60" rx="1.85" ry="1.65" fill="#fff" stroke="#000" stroke-width="0.9"/>
<ellipse cx="303.55" cy="267.64" rx="1.85" ry="1.65" fill="#fff" stroke="#000" stroke-width="0.9"/>
<ellipse cx="308.10" cy="268.24" rx="1.85" ry="1.65" fill="#fff" stroke="#000" stroke-width="0.9"/>
<ellipse cx="312.65" cy="274.47" rx="1.85" ry="1.65" fill="#fff" stroke="#000" stroke-width="0.9"/>
<ellipse cx="317.20" cy="277.47" rx="1.85" ry="1.65" fill="#fff" stroke="#000" stroke-width="0.9"/>
<ellipse cx="326.30" cy="282.34" rx="1.85" ry="1.65" fill="#fff" stroke="#000" stroke-width="0.9"/>
<ellipse cx="335.40" cy="283.71" rx="1.85" ry="1.65" fill="#fff" stroke="#000" stroke-width="0.9"/>
<ellipse cx="353.60" cy="287.65" rx="1.85" ry="1.65" fill="#fff" stroke="#000" stroke-width="0.9"/>
<ellipse cx="371.80" cy="289.51" rx="1.85" ry="1.65" fill="#fff" stroke="#000" stroke-width="0.9"/>
<ellipse cx="517.40" cy="316.11" rx="1.85" ry="1.65" fill="#fff" stroke="#000" stroke-width="0.9"/>
<polyline fill="none" stroke="#000" stroke-width="1.05" stroke-dasharray="4.6 1.4" points="299.00,319.62 303.55,257.61 308.10,263.96 312.65,266.24 317.20,266.38 326.30,271.18 335.40,274.05 353.60,277.47 371.80,282.02 517.40,307.74"/>
<path d="M296.50 318.12L301.50 318.12L299.00 321.34Z" fill="#000"/>
<path d="M301.05 256.11L306.05 256.11L303.55 259.33Z" fill="#000"/>
<path d="M305.60 262.46L310.60 262.46L308.10 265.69Z" fill="#000"/>
<path d="M310.15 264.74L315.15 264.74L312.65 267.97Z" fill="#000"/>
<path d="M314.70 264.88L319.70 264.88L317.20 268.10Z" fill="#000"/>
<path d="M323.80 269.68L328.80 269.68L326.30 272.90Z" fill="#000"/>
<path d="M332.90 272.55L337.90 272.55L335.40 275.78Z" fill="#000"/>
<path d="M351.10 275.97L356.10 275.97L353.60 279.20Z" fill="#000"/>
<path d="M369.30 280.52L374.30 280.52L371.80 283.74Z" fill="#000"/>
<path d="M514.90 306.24L519.90 306.24L517.40 309.47Z" fill="#000"/>
<polyline fill="none" stroke="#000" stroke-width="0.95" stroke-dasharray="5.5 1 0.9 1 0.9 1" points="299.00,339.74 303.55,263.26 308.10,267.07 312.65,268.69 317.20,266.38 326.30,274.05 335.40,279.05 353.60,285.57"/>
<path d="M296.90 341.24L301.10 341.24L299.00 338.02Z" fill="#fff" stroke="#000" stroke-width="0.85"/>
<path d="M301.45 264.76L305.65 264.76L303.55 261.54Z" fill="#fff" stroke="#000" stroke-width="0.85"/>
<path d="M306.00 268.57L310.20 268.57L308.10 265.34Z" fill="#fff" stroke="#000" stroke-width="0.85"/>
<path d="M310.55 270.19L314.75 270.19L312.65 266.97Z" fill="#fff" stroke="#000" stroke-width="0.85"/>
<path d="M315.10 267.88L319.30 267.88L317.20 264.65Z" fill="#fff" stroke="#000" stroke-width="0.85"/>
<path d="M324.20 275.55L328.40 275.55L326.30 272.33Z" fill="#fff" stroke="#000" stroke-width="0.85"/>
<path d="M333.30 280.55L337.50 280.55L335.40 277.32Z" fill="#fff" stroke="#000" stroke-width="0.85"/>
<path d="M351.50 287.07L355.70 287.07L353.60 283.85Z" fill="#fff" stroke="#000" stroke-width="0.85"/>
<polyline fill="none" stroke="#000" stroke-width="1.15" stroke-dasharray="8.3 3" points="299.00,349.37 303.55,259.83 308.10,272.46 312.65,280.18 317.20,281.07 326.30,287.00 335.40,289.51 353.60,294.55 371.80,296.24"/>
<rect x="296.85" y="347.72" width="4.30" height="3.30" fill="#000"/>
<rect x="301.40" y="258.18" width="4.30" height="3.30" fill="#000"/>
<rect x="305.95" y="270.81" width="4.30" height="3.30" fill="#000"/>
<rect x="310.50" y="278.53" width="4.30" height="3.30" fill="#000"/>
<rect x="315.05" y="279.42" width="4.30" height="3.30" fill="#000"/>
<rect x="324.15" y="285.35" width="4.30" height="3.30" fill="#000"/>
<rect x="333.25" y="287.86" width="4.30" height="3.30" fill="#000"/>
<rect x="351.45" y="292.90" width="4.30" height="3.30" fill="#000"/>
<rect x="369.65" y="294.59" width="4.30" height="3.30" fill="#000"/>
<path d="M299 229.9H517.4V354.8H299Z" fill="none" stroke="#2a2a2a" stroke-width="1.2"/>
<path d="M299.00 354.8v2.3" stroke="#2a2a2a" stroke-width="0.9"/>
<text x="299.00" y="363.70" text-anchor="middle" class="tk" style="font-size:6.5px">0</text>
<path d="M335.40 354.8v2.3" stroke="#2a2a2a" stroke-width="0.9"/>
<text x="335.40" y="363.70" text-anchor="middle" class="tk" style="font-size:6.5px">4</text>
<path d="M371.80 354.8v2.3" stroke="#2a2a2a" stroke-width="0.9"/>
<text x="371.80" y="363.70" text-anchor="middle" class="tk" style="font-size:6.5px">8</text>
<path d="M408.20 354.8v2.3" stroke="#2a2a2a" stroke-width="0.9"/>
<text x="408.20" y="363.70" text-anchor="middle" class="tk" style="font-size:6.5px">12</text>
<path d="M444.60 354.8v2.3" stroke="#2a2a2a" stroke-width="0.9"/>
<text x="444.60" y="363.70" text-anchor="middle" class="tk" style="font-size:6.5px">16</text>
<path d="M481.00 354.8v2.3" stroke="#2a2a2a" stroke-width="0.9"/>
<text x="481.00" y="363.70" text-anchor="middle" class="tk" style="font-size:6.5px">20</text>
<path d="M517.40 354.8v2.3" stroke="#2a2a2a" stroke-width="0.9"/>
<text x="517.40" y="363.70" text-anchor="middle" class="tk" style="font-size:6.5px">24</text>
<path d="M299 354.80h-2.6" stroke="#2a2a2a" stroke-width="0.9"/>
<text x="294.0" y="357.10" text-anchor="end" class="tk" style="font-size:6.5px">1</text>
<path d="M299 342.27h-1.5" stroke="#2a2a2a" stroke-width="0.7"/>
<path d="M299 334.94h-1.5" stroke="#2a2a2a" stroke-width="0.7"/>
<path d="M299 329.73h-1.5" stroke="#2a2a2a" stroke-width="0.7"/>
<path d="M299 325.70h-1.5" stroke="#2a2a2a" stroke-width="0.7"/>
<path d="M299 322.40h-1.5" stroke="#2a2a2a" stroke-width="0.7"/>
<path d="M299 319.62h-1.5" stroke="#2a2a2a" stroke-width="0.7"/>
<path d="M299 317.20h-1.5" stroke="#2a2a2a" stroke-width="0.7"/>
<path d="M299 315.07h-1.5" stroke="#2a2a2a" stroke-width="0.7"/>
<path d="M299 313.17h-2.6" stroke="#2a2a2a" stroke-width="0.9"/>
<text x="294.0" y="315.47" text-anchor="end" class="tk" style="font-size:6.5px">10</text>
<path d="M299 300.63h-1.5" stroke="#2a2a2a" stroke-width="0.7"/>
<path d="M299 293.30h-1.5" stroke="#2a2a2a" stroke-width="0.7"/>
<path d="M299 288.10h-1.5" stroke="#2a2a2a" stroke-width="0.7"/>
<path d="M299 284.07h-1.5" stroke="#2a2a2a" stroke-width="0.7"/>
<path d="M299 280.77h-1.5" stroke="#2a2a2a" stroke-width="0.7"/>
<path d="M299 277.98h-1.5" stroke="#2a2a2a" stroke-width="0.7"/>
<path d="M299 275.57h-1.5" stroke="#2a2a2a" stroke-width="0.7"/>
<path d="M299 273.44h-1.5" stroke="#2a2a2a" stroke-width="0.7"/>
<path d="M299 271.53h-2.6" stroke="#2a2a2a" stroke-width="0.9"/>
<text x="294.0" y="273.83" text-anchor="end" class="tk" style="font-size:6.5px">100</text>
<path d="M299 259.00h-1.5" stroke="#2a2a2a" stroke-width="0.7"/>
<path d="M299 251.67h-1.5" stroke="#2a2a2a" stroke-width="0.7"/>
<path d="M299 246.47h-1.5" stroke="#2a2a2a" stroke-width="0.7"/>
<path d="M299 242.43h-1.5" stroke="#2a2a2a" stroke-width="0.7"/>
<path d="M299 239.14h-1.5" stroke="#2a2a2a" stroke-width="0.7"/>
<path d="M299 236.35h-1.5" stroke="#2a2a2a" stroke-width="0.7"/>
<path d="M299 233.93h-1.5" stroke="#2a2a2a" stroke-width="0.7"/>
<path d="M299 231.81h-1.5" stroke="#2a2a2a" stroke-width="0.7"/>
<path d="M299 229.90h-2.6" stroke="#2a2a2a" stroke-width="0.9"/>
<text x="294.0" y="232.20" text-anchor="end" class="tk" style="font-size:6.5px">1000</text>
<text x="309" y="239.30" class="day" textLength="25.6" lengthAdjust="spacing">Day 12</text>
<text x="393.8" y="376.40" class="tl" textLength="29.6" lengthAdjust="spacing">Time (h)</text>
<text transform="translate(272.68 342.60) rotate(-90)" class="yl" style="font-size:6.9px" textLength="104" lengthAdjust="spacingAndGlyphs">MGCD0103 Concentrations (ng/mL)</text>
<rect x="417.6" y="230.8" width="92.89999999999998" height="37.5" fill="#fff" stroke="#2a2a2a" stroke-width="1"/>
<path d="M421.4 237.4H454.7" stroke="#000" stroke-width="0.9"/>
<ellipse cx="438.30" cy="237.40" rx="2.15" ry="1.85" fill="#000"/>
<text x="463.2" y="239.40" class="lg" style="font-size:5.9px" textLength="42.6" lengthAdjust="spacing">20 mg/m2 (n=2)</text>
<path d="M421.4 243.8H454.7" stroke="#333" stroke-width="0.8" stroke-dasharray="1 1.2"/>
<ellipse cx="438.30" cy="243.80" rx="1.85" ry="1.65" fill="#fff" stroke="#000" stroke-width="0.9"/>
<text x="463.2" y="245.80" class="lg" style="font-size:5.9px" textLength="42.6" lengthAdjust="spacing">40 mg/m2 (n=3)</text>
<path d="M421.4 249.9H454.7" stroke="#000" stroke-width="1.05" stroke-dasharray="4.6 1.4"/>
<path d="M435.80 248.40L440.80 248.40L438.30 251.62Z" fill="#000"/>
<text x="463.2" y="251.90" class="lg" style="font-size:5.9px" textLength="42.6" lengthAdjust="spacing">60 mg/m2 (n=4)</text>
<path d="M421.4 256.0H454.7" stroke="#000" stroke-width="0.95" stroke-dasharray="5.5 1 0.9 1 0.9 1"/>
<path d="M436.20 257.50L440.40 257.50L438.30 254.28Z" fill="#fff" stroke="#000" stroke-width="0.85"/>
<text x="463.2" y="258.00" class="lg" style="font-size:5.9px" textLength="42.6" lengthAdjust="spacing">70 mg/m2 (n=3)</text>
<path d="M421.4 262.0H454.7" stroke="#000" stroke-width="1.15" stroke-dasharray="8.3 3"/>
<rect x="436.15" y="260.35" width="4.30" height="3.30" fill="#000"/>
<text x="463.2" y="264.00" class="lg" style="font-size:5.9px" textLength="42.6" lengthAdjust="spacing">80 mg/m2 (n=1)</text></g>
</svg>
</body></html>
